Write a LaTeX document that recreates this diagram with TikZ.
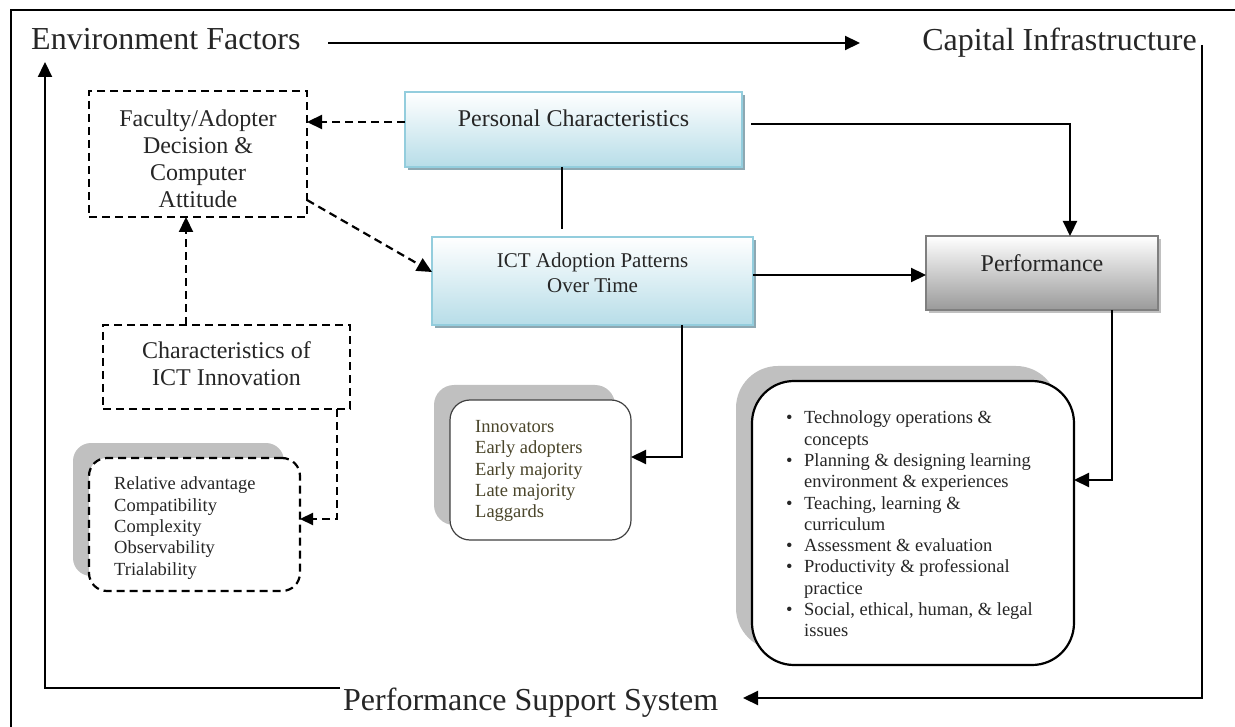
\documentclass[tikz,border=0pt]{standalone}
\usepackage{fontspec}
\setmainfont{Liberation Serif}
\usetikzlibrary{arrows.meta,shadows}

\definecolor{bluebd}{HTML}{93CDDD}
\definecolor{bluelo}{HTML}{B7DDE8}
\definecolor{blueshadow}{HTML}{8DA8B2}
\definecolor{graybd}{HTML}{7F7F7F}
\definecolor{graylo}{HTML}{9A9A9A}
\definecolor{softgray}{HTML}{C0C0C0}
\definecolor{olivetext}{HTML}{4A452A}
\definecolor{inktext}{HTML}{262626}

\newcommand{\bul}{\makebox[18pt][l]{\textbullet}}
\newcommand{\cont}{\hspace*{18pt}}

\begin{document}
\begin{tikzpicture}[x=1pt,y=-1pt,
  bigfont/.style={font=\fontsize{32}{36}\selectfont, text=inktext, inner sep=0pt},
  boxfont/.style={font=\fontsize{24}{27}\selectfont, text=inktext, inner sep=0pt},
  ictfont/.style={font=\fontsize{21}{25}\selectfont, text=inktext, inner sep=0pt},
  listfont/.style={font=\fontsize{18.5}{21.3}\selectfont, inner sep=0pt, align=left},
  panel/.style={inner sep=0pt, outer sep=0pt},
  bluebox/.style={panel, draw=bluebd, line width=1.8pt, top color=white, bottom color=bluelo,
    drop shadow={shadow xshift=3pt, shadow yshift=-3pt, fill=blueshadow, opacity=1}},
  graybox/.style={panel, draw=graybd, line width=1.8pt, top color=white, bottom color=graylo,
    drop shadow={shadow xshift=3pt, shadow yshift=-3pt, fill=softgray, opacity=1}},
  dashbox/.style={panel, draw=black, line width=2.2pt, dash pattern=on 8pt off 5pt},
  roundshadow/.style={drop shadow={shadow xshift=-16pt, shadow yshift=15pt, fill=softgray, opacity=1}},
  tip/.style={-{Triangle[length=15pt,width=14pt]}},
  flow/.style={draw=black, line width=2.2pt, tip},
  dashflow/.style={draw=black, line width=2.2pt, dash pattern=on 8pt off 5pt, tip},
]
\useasboundingbox (0,0) rectangle (1235,727);

% outer frame (top and left edges)
\draw[line width=2pt] (11,727) -- (11,10) -- (1235,10);

% corner labels of the cycle
\node[bigfont, anchor=base west] (env) at (31,50) {Environment Factors};
\node[bigfont, anchor=base east] (cap) at (1197,51) {Capital Infrastructure};
\node[bigfont, anchor=base west] (pss) at (343,710) {Performance Support System};

\coordinate (envR) at (328,43);
\coordinate (capL) at (860,43);
\coordinate (capR) at (1202,45);
\coordinate (pssR) at (743,698);
\coordinate (pssL) at (340,688);
\coordinate (envB) at (45,62);

\draw[flow] (envR) -- (capL);
\draw[flow] (capR) |- (pssR);
\draw[flow] (pssL) -| (envB);

% central boxes
\node[bluebox, minimum width=337pt, minimum height=75pt] (pc) at (573.5,129.5) {};
\node[boxfont] (pcT) at (573.5,118) {Personal Characteristics};

\node[bluebox, minimum width=321pt, minimum height=88pt] (ict) at (592.5,281) {};
\node[ictfont, align=center] (ictT) at (592.5,272.5) {ICT Adoption Patterns\\Over Time};

\node[graybox, minimum width=232pt, minimum height=74pt] (perf) at (1042,273) {};
\node[boxfont] (perfT) at (1042,263) {Performance};

% dashed boxes on the left
\node[dashbox, minimum width=218pt, minimum height=126pt] (fac) at (198,154) {};
\node[boxfont, align=center] (facT) at (198,159) {Faculty/Adopter\\Decision \&\\Computer\\Attitude};

\node[dashbox, minimum width=247pt, minimum height=84pt] (chr) at (226.5,367) {};
\node[boxfont, align=center] (chrT) at (226.5,364) {Characteristics of\\ICT Innovation};

% rounded lists
\node[dashbox, rounded corners=18pt, fill=white, roundshadow, minimum width=211pt, minimum height=133pt] (attr) at (194.5,524.5) {};
\node[listfont, text=inktext, anchor=west] (attrT) at (114,528) {Relative advantage\\Compatibility\\Complexity\\Observability\\Trialability};

\node[panel, draw=black!75, line width=1.2pt, rounded corners=20pt, fill=white, roundshadow, minimum width=181pt, minimum height=140pt] (adopt) at (540.5,470) {};
\node[listfont, text=olivetext, anchor=west] (adoptT) at (475,471) {Innovators\\Early adopters\\Early majority\\Late majority\\Laggards};

\node[panel, draw=black, line width=2.2pt, rounded corners=42pt, fill=white, roundshadow, minimum width=322pt, minimum height=284pt] (std) at (913,523) {};
\node[listfont, text=inktext, anchor=west] (stdT) at (786,524) {%
\bul Technology operations \&\\
\cont concepts\\
\bul Planning \& designing learning\\
\cont environment \& experiences\\
\bul Teaching, learning \&\\
\cont curriculum\\
\bul Assessment \& evaluation\\
\bul Productivity \& professional\\
\cont practice\\
\bul Social, ethical, human, \& legal\\
\cont issues};

% connectors
\draw[dashflow] ([yshift=7.5pt]pc.west) -- ([yshift=7.5pt]pc.west -| fac.east);
\draw[dashflow] ([yshift=-46pt]fac.east) -- ([yshift=9pt]ict.west);
\draw[line width=2.2pt, shorten >=8pt] ([xshift=-11.5pt]pc.south) -- ([xshift=-11.5pt]pc.south |- ict.north);
\draw[flow, shorten <=9pt] ([yshift=5.5pt]pc.east) -| ([xshift=28pt]perf.north);
\draw[flow] ([yshift=6pt]ict.east) -- ([yshift=6pt]ict.east -| perf.west);
\draw[flow] ([xshift=70pt]perf.south) |- ([yshift=43pt]std.east);
\draw[flow] ([xshift=89.5pt]ict.south) |- ([yshift=13pt]adopt.east);
\draw[dashflow] ([xshift=-40.5pt]chr.north) -- ([xshift=-40.5pt]chr.north |- fac.south);
\draw[dashflow, -{Triangle[length=13pt,width=12pt]}] ([xshift=110.5pt]chr.south) |- ([yshift=5.5pt]attr.east);
\end{tikzpicture}
\end{document}
